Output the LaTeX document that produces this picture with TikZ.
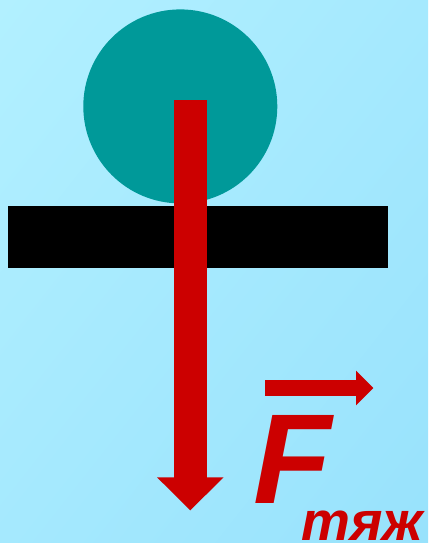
\documentclass[tikz,border=0pt]{standalone}
\usepackage{fontspec}
\setmainfont{Liberation Sans}
\usetikzlibrary{arrows.meta,shadings}
\definecolor{bgtl}{RGB}{178,240,255}
\definecolor{bgbr}{RGB}{152,226,252}
\definecolor{bgmid}{RGB}{165,233,254}
\definecolor{ball}{RGB}{0,153,153}
\definecolor{force}{RGB}{204,0,0}
\begin{document}
\begin{tikzpicture}[x=1pt, y=-1pt, line join=miter, >=Stealth,
	forcearrow/.style={force, line width=32.7pt, -{Triangle[width=64.4pt, length=33pt]}},
	vecarrow/.style={force, line width=16.6pt, -{Triangle[width=33.8pt, length=17.3pt]}}]
			% background
			\shade[upper left=bgtl, lower right=bgbr, upper right=bgmid, lower left=bgmid] (0,0) rectangle (428,543);
			\useasboundingbox (0,0) rectangle (428,543);
			% ball and support
			\fill[ball] (180.3,106.4) ellipse [x radius=97, y radius=97];
			\node[fill=black, inner sep=0, minimum width=380pt, minimum height=62pt, anchor=north west] (bar) at (8,206.2) {};
			\coordinate (O) at (190.3,100.3);
			\coordinate (T) at (190.3,510.4);
			\draw[forcearrow] (O) -- (T);
			% label
			\node[font=\fontsize{128}{128}\selectfont\bfseries\itshape, text=force, inner sep=0, anchor=base west] (F) at (253,503.5) {F};
			\node[font=\fontsize{55}{55}\selectfont\bfseries\itshape, text=force, inner sep=0, anchor=base west] (sub) at (301,540) {тяж};
			\coordinate (V1) at (265,388);
			\coordinate (V2) at (373.3,388);
			\draw[vecarrow] (V1) -- (V2);
		\end{tikzpicture}
\end{document}
